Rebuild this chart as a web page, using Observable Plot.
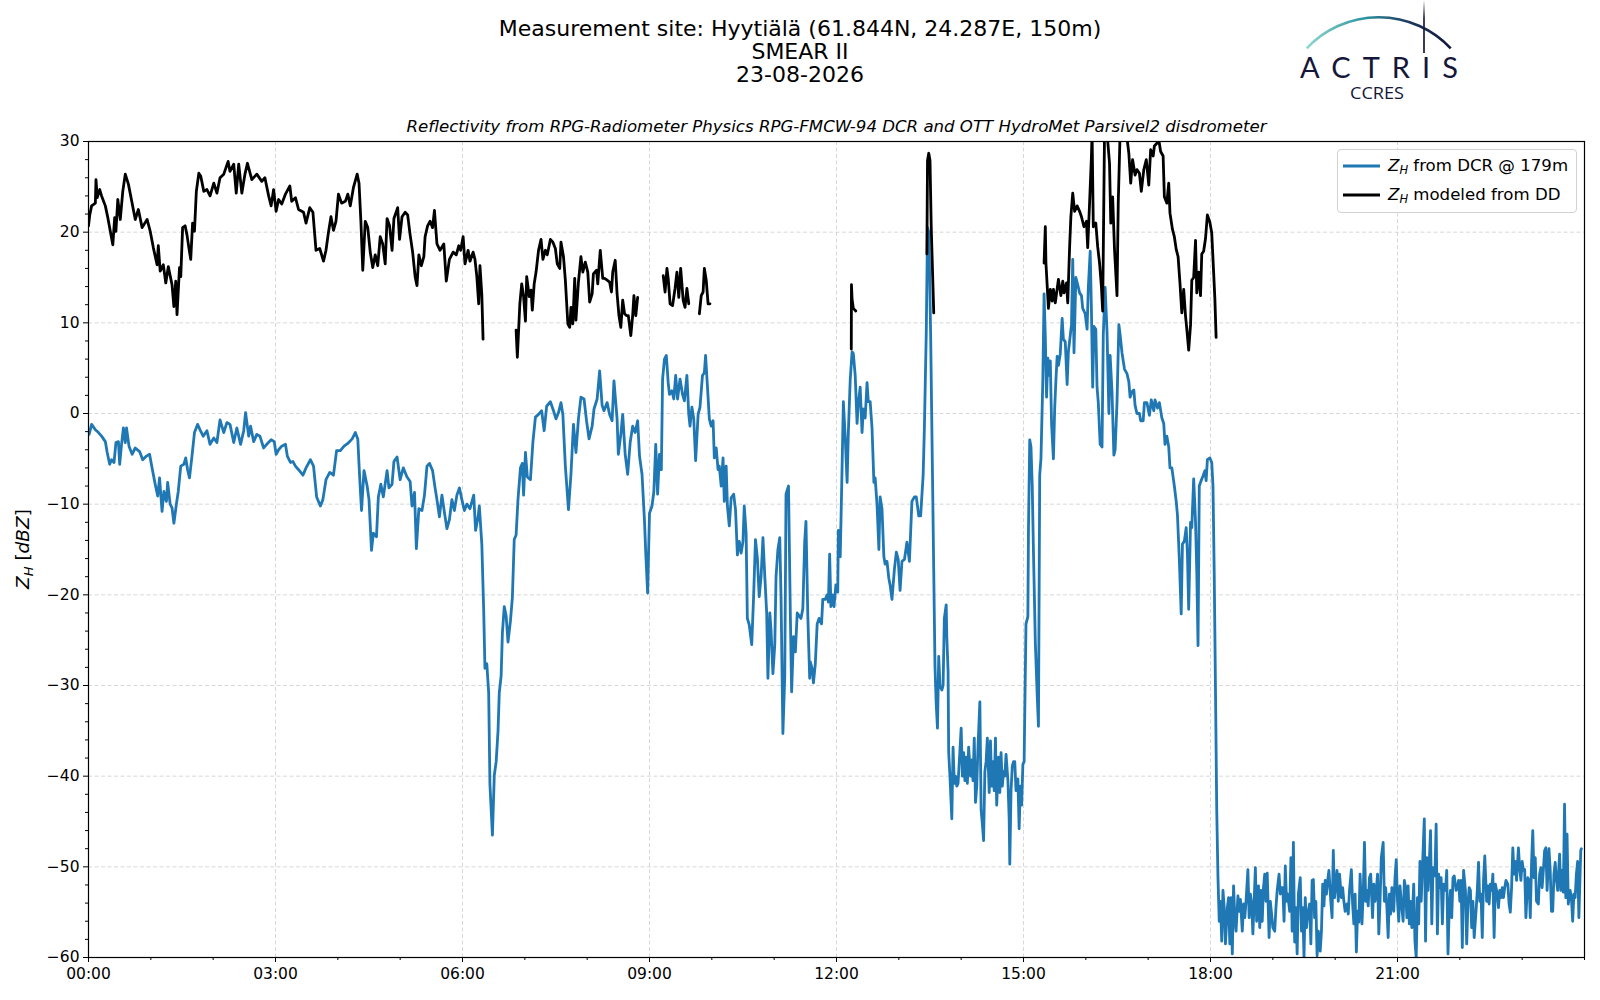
<!DOCTYPE html>
<html>
<head>
<meta charset="utf-8">
<script src="https://cdn.jsdelivr.net/npm/d3@7"></script>
<script src="https://cdn.jsdelivr.net/npm/@observablehq/plot@0.6"></script>
<style>
  body { margin: 0; background: #fff; }
  #wrap { position: relative; width: 1600px; height: 1000px; font-family: "DejaVu Sans", sans-serif; color: #000; overflow: hidden; }
  .title { position: absolute; left: 0; top: 17px; width: 1600px; text-align: center; font-size: 22px; line-height: 23px; }
  #chart { position: absolute; left: 0; top: 110px; }
  #logo { position: absolute; left: 1280px; top: 0; }
  #legend { position: absolute; left: 1337px; top: 149px; width: 238px; height: 62px; border: 1px solid #d2d2d2; border-radius: 4px; background: rgba(255,255,255,0.85); font-size: 16.6px; }
  .entry { position: absolute; left: 5px; height: 20px; display: flex; align-items: center; white-space: nowrap; }
  .entry svg { margin-right: 8px; }
  i { font-style: italic; }
  sub { font-size: 11.5px; vertical-align: -3px; font-style: italic; }
</style>
</head>
<body>
<div id="wrap">
  <div class="title">Measurement site: Hyytiälä (61.844N, 24.287E, 150m)<br>SMEAR II<br>23-08-2026</div>
  <svg id="logo" width="200" height="105" viewBox="0 0 200 105">
    <defs>
      <linearGradient id="arcg" x1="0" x2="1" y1="0" y2="0">
        <stop offset="0" stop-color="#8fd6cf"/>
        <stop offset="0.4" stop-color="#2f95a0"/>
        <stop offset="0.7" stop-color="#1c3b60"/>
        <stop offset="1" stop-color="#111538"/>
      </linearGradient>
      <linearGradient id="vg" gradientUnits="userSpaceOnUse" x1="0" x2="0" y1="0" y2="53">
        <stop offset="0" stop-color="#ffffff"/>
        <stop offset="0.35" stop-color="#1a1d44"/>
        <stop offset="1" stop-color="#111538"/>
      </linearGradient>
    </defs>
    <path d="M26.7,48.3 A99,99 0 0 1 170.7,48.3" fill="none" stroke="url(#arcg)" stroke-width="2.6"/>
    <line x1="144" y1="1" x2="144" y2="53" stroke="url(#vg)" stroke-width="1.7"/>
    <text x="20" y="78" font-family="Lato, 'Open Sans', sans-serif" font-size="29" fill="#14173a" textLength="158" lengthAdjust="spacing">ACTRIS</text>
    <text x="70" y="99" font-family="'Open Sans', sans-serif" font-size="17" fill="#14173a" textLength="54" lengthAdjust="spacingAndGlyphs">CCRES</text>
  </svg>
  <div id="chart"></div>
  <div id="legend">
    <div class="entry" style="top:6px"><svg width="37" height="4"><line x1="0" y1="2" x2="37" y2="2" stroke="#1f77b4" stroke-width="2.8"/></svg><span><i>Z</i><sub>H</sub> from DCR @ 179m</span></div>
    <div class="entry" style="top:35px"><svg width="37" height="4"><line x1="0" y1="2" x2="37" y2="2" stroke="#000" stroke-width="2.8"/></svg><span><i>Z</i><sub>H</sub> modeled from DD</span></div>
  </div>
</div>
<script>
// ---- Data: time (hours since 00:00 UTC) and reflectivity (dBZ) ----
const subtitle = "Reflectivity from RPG-Radiometer Physics RPG-FMCW-94 DCR and OTT HydroMet Parsivel2 disdrometer";
const xMajorTicks = [0, 3, 6, 9, 12, 15, 18, 21];
const xMinorTicks = [0,1,2,3,4,5,6,7,8,9,10,11,12,13,14,15,16,17,18,19,20,21,22,23,24];
const yMajorTicks = [-60, -50, -40, -30, -20, -10, 0, 10, 20, 30];
const yMinorTicks = [-58,-56,-54,-52,-48,-46,-44,-42,-38,-36,-34,-32,-28,-26,-24,-22,-18,-16,-14,-12,-8,-6,-4,-2,2,4,6,8,12,14,16,18,22,24,26,28];

// Z_H from DCR @ 179m (blue)
const dcrNight = [[0.01,-2.3],[0.05,-1.2],[0.11,-1.8],[0.16,-2.1],[0.21,-2.5],[0.27,-3.1],[0.30,-4.3],[0.34,-5.6],[0.37,-5.1],[0.41,-5.4],[0.44,-3.2],[0.48,-3.1],[0.50,-5.6],[0.53,-3.4],[0.56,-1.6],[0.59,-3.2],[0.61,-1.6],[0.65,-3.6],[0.70,-4.5],[0.75,-3.8],[0.82,-4.2],[0.87,-5.1],[0.93,-4.7],[0.98,-4.5],[1.02,-6.0],[1.07,-7.8],[1.11,-9.1],[1.14,-7.1],[1.18,-10.8],[1.21,-8.6],[1.25,-9.7],[1.27,-7.6],[1.31,-10.0],[1.34,-10.4],[1.37,-12.1],[1.41,-10.0],[1.44,-8.6],[1.48,-5.8],[1.53,-5.6],[1.56,-4.9],[1.59,-6.2],[1.62,-7.1],[1.66,-4.7],[1.70,-2.1],[1.75,-1.2],[1.79,-1.8],[1.84,-2.5],[1.90,-1.9],[1.95,-3.4],[2.01,-2.7],[2.06,-3.2],[2.11,-0.7],[2.17,-2.1],[2.22,-1.0],[2.27,-1.2],[2.33,-3.2],[2.38,-1.6],[2.44,-3.4],[2.49,-1.9],[2.52,0.1],[2.57,-2.5],[2.60,-1.4],[2.65,-3.1],[2.70,-2.3],[2.75,-2.5],[2.81,-3.8],[2.86,-3.4],[2.93,-2.9],[2.98,-3.1],[3.01,-4.5],[3.05,-4.0],[3.10,-3.6],[3.16,-3.4],[3.19,-4.7],[3.24,-5.4],[3.28,-5.3],[3.32,-5.8],[3.37,-6.2]];
const dcrMorning = [[3.44,-6.8],[3.49,-6.0],[3.56,-5.1],[3.61,-5.8],[3.66,-9.2],[3.72,-10.2],[3.76,-9.5],[3.81,-7.3],[3.87,-6.5],[3.93,-6.8],[3.98,-4.1],[4.04,-4.1],[4.10,-3.6],[4.16,-3.3],[4.23,-2.8],[4.28,-2.1],[4.32,-2.8],[4.35,-7.0],[4.38,-10.7],[4.42,-6.3],[4.47,-8.0],[4.50,-9.5],[4.54,-15.1],[4.57,-13.2],[4.62,-13.6],[4.65,-9.2],[4.69,-7.8],[4.73,-9.2],[4.79,-6.3],[4.82,-8.2],[4.87,-7.8],[4.90,-5.3],[4.95,-4.8],[5.00,-7.3],[5.05,-6.0],[5.11,-7.0],[5.16,-7.5],[5.19,-10.2],[5.23,-8.7],[5.26,-14.9],[5.30,-10.5],[5.35,-10.7],[5.39,-9.0],[5.43,-5.8],[5.47,-5.5],[5.52,-6.3],[5.56,-8.2],[5.59,-9.5],[5.63,-11.4],[5.67,-9.0],[5.71,-10.9],[5.75,-12.7],[5.79,-11.7],[5.83,-9.5],[5.87,-10.7],[5.91,-9.0],[5.95,-8.2],[5.99,-9.5],[6.03,-10.7],[6.07,-10.0],[6.12,-10.5],[6.18,-9.0],[6.21,-12.9],[6.25,-11.4],[6.27,-10.2],[6.31,-14.4],[6.34,-21.7],[6.36,-28.1],[6.39,-27.6],[6.42,-30.8],[6.44,-40.9],[6.48,-46.5],[6.51,-39.9],[6.54,-38.4],[6.57,-35.0],[6.59,-30.8],[6.62,-28.9],[6.64,-24.2],[6.67,-21.3],[6.70,-22.3],[6.73,-25.2],[6.77,-22.8],[6.80,-20.3],[6.83,-13.9],[6.86,-13.4],[6.89,-9.5],[6.93,-6.0],[6.96,-5.5],[6.98,-9.0],[7.01,-4.3],[7.04,-7.0],[7.09,-7.3],[7.13,-3.1],[7.17,-0.4],[7.22,-0.1],[7.27,0.3],[7.31,-1.9],[7.35,0.8],[7.41,1.3]];
const dcrMidday = [[7.46,0.3],[7.50,-0.6],[7.54,0.1],[7.58,1.2],[7.61,-0.1],[7.65,-5.8],[7.70,-10.6],[7.74,-6.7],[7.78,-1.2],[7.82,-4.3],[7.86,-0.6],[7.90,1.8],[7.95,1.6],[7.99,-0.8],[8.03,-2.8],[8.08,-1.4],[8.11,0.5],[8.16,1.6],[8.20,4.7],[8.24,0.9],[8.27,0.3],[8.32,1.2],[8.36,-0.1],[8.40,-0.8],[8.43,3.6],[8.48,-0.6],[8.50,-4.5],[8.54,-2.3],[8.57,-0.1],[8.61,-4.5],[8.65,-6.7],[8.69,-3.2],[8.73,-1.4],[8.77,-2.1],[8.81,-0.8],[8.84,-4.7],[8.88,-6.7],[8.92,-11.9],[8.94,-15.4],[8.97,-19.8],[9.00,-11.0],[9.04,-10.2],[9.07,-8.6],[9.10,-3.4],[9.13,-8.9],[9.16,-4.5],[9.19,-6.2],[9.21,3.8],[9.24,6.0],[9.27,6.4],[9.30,3.4],[9.32,2.1],[9.36,2.5],[9.39,1.6],[9.42,4.2],[9.45,1.6],[9.49,3.8],[9.53,2.1],[9.56,1.4],[9.60,4.2],[9.63,-0.1],[9.65,-1.4],[9.68,0.7],[9.71,-0.6],[9.74,-5.2],[9.78,-0.1],[9.81,0.7],[9.85,4.2],[9.88,4.5],[9.90,6.4],[9.93,2.9],[9.96,-0.6],[9.99,-1.4],[10.02,-0.8],[10.04,-4.9],[10.07,-3.8],[10.10,-6.2],[10.12,-5.8],[10.15,-8.0],[10.18,-4.9],[10.20,-9.7],[10.23,-5.8],[10.25,-10.2],[10.28,-12.4],[10.31,-9.3],[10.35,-8.9],[10.38,-10.6],[10.41,-15.6],[10.44,-14.1],[10.47,-15.4],[10.50,-14.1],[10.52,-10.2],[10.55,-13.2],[10.57,-22.6],[10.60,-23.3],[10.64,-25.5],[10.67,-20.2],[10.70,-13.9],[10.73,-15.9],[10.76,-20.2],[10.79,-18.0],[10.82,-13.7],[10.85,-18.0],[10.88,-22.0],[10.90,-29.2],[10.93,-22.0],[10.95,-23.9],[10.98,-28.7],[11.01,-25.5],[11.03,-18.0],[11.06,-15.0],[11.09,-13.7],[11.11,-20.2],[11.14,-35.3],[11.17,-29.0],[11.19,-8.9],[11.23,-8.0],[11.26,-22.4],[11.28,-30.7],[11.31,-24.6],[11.34,-26.3],[11.37,-22.0],[11.41,-22.4],[11.43,-22.6],[11.46,-21.5],[11.49,-14.1],[11.51,-11.9],[11.54,-22.4],[11.57,-29.2]];
const dcrAfternoon = [[11.58,-27.4],[11.61,-28.2],[11.63,-29.7],[11.66,-27.6],[11.69,-23.2],[11.72,-22.6],[11.76,-23.2],[11.78,-20.5],[11.82,-20.5],[11.85,-20.0],[11.87,-20.8],[11.89,-15.5],[11.91,-21.3],[11.94,-20.0],[11.96,-21.3],[11.99,-18.9],[12.02,-19.7],[12.03,-12.9],[12.06,-15.8],[12.09,-5.8],[12.11,1.3],[12.14,-2.6],[12.17,-7.6],[12.19,-2.1],[12.22,3.7],[12.25,6.8],[12.27,6.6],[12.30,4.2],[12.33,-1.1],[12.35,1.1],[12.38,2.9],[12.41,-2.1],[12.43,0.5],[12.46,-0.5],[12.49,3.4],[12.51,1.3],[12.54,1.3],[12.57,-1.6],[12.60,-7.6],[12.62,-7.1],[12.65,-10.0],[12.68,-15.0],[12.70,-9.2],[12.73,-10.5],[12.76,-15.8],[12.78,-16.6],[12.81,-16.3],[12.84,-18.2],[12.86,-18.9],[12.89,-20.5],[12.93,-17.1],[12.96,-15.3],[12.99,-16.1],[13.02,-19.5],[13.05,-16.3],[13.09,-16.1],[13.13,-14.2],[13.17,-16.3],[13.21,-9.7],[13.25,-9.2],[13.28,-9.2],[13.32,-11.3],[13.35,-11.3],[13.39,-6.8],[13.41,-1.6],[13.44,8.9],[13.46,20.5],[13.48,20.0],[13.49,16.8],[13.51,8.9],[13.54,-6.8],[13.56,-17.4],[13.58,-27.9],[13.60,-32.1],[13.62,-34.7],[13.64,-26.8],[13.66,-30.0],[13.69,-30.5],[13.71,-30.0],[13.73,-22.6],[13.76,-21.1],[13.77,-24.7],[13.79,-28.4],[13.80,-37.4],[13.82,-40.0],[13.85,-44.7],[13.87,-36.8],[13.89,-40.8],[13.91,-40.0],[13.93,-41.1],[13.95,-40.8],[13.97,-38.4],[14.00,-34.7],[14.02,-40.0],[14.04,-37.4],[14.06,-40.5],[14.08,-37.9],[14.10,-40.8],[14.12,-36.8],[14.15,-40.0],[14.17,-38.2],[14.19,-40.5],[14.21,-35.8],[14.23,-42.9],[14.25,-41.1],[14.27,-36.8],[14.30,-31.8],[14.32,-43.7],[14.34,-45.3],[14.36,-47.1],[14.38,-39.5],[14.40,-38.4],[14.42,-35.8],[14.45,-41.8],[14.47,-36.1],[14.49,-41.1],[14.51,-38.4],[14.53,-41.6],[14.55,-35.8],[14.57,-43.2],[14.60,-37.9],[14.62,-41.8],[14.64,-37.4],[14.66,-41.1],[14.68,-39.5],[14.70,-40.0],[14.72,-37.6],[14.75,-40.5],[14.77,-44.7],[14.78,-49.7],[14.80,-41.6],[14.82,-38.9],[14.84,-38.4],[14.86,-38.4],[14.88,-41.6],[14.91,-40.3],[14.93,-45.8],[14.95,-41.1],[14.97,-43.2],[14.99,-38.7],[15.01,-38.4],[15.02,-33.2],[15.04,-23.2],[15.07,-22.4],[15.08,-12.6],[15.10,-2.9],[15.12,-3.7],[15.14,-7.9],[15.16,-15.3],[15.19,-25.3],[15.22,-31.1],[15.24,-34.5],[15.26,-6.8],[15.28,-5.0],[15.31,3.7],[15.33,13.2],[15.35,8.4],[15.37,1.8],[15.39,6.1],[15.41,4.2],[15.43,5.8],[15.45,-1.1],[15.48,-5.0],[15.50,0.5],[15.52,3.7],[15.54,6.3],[15.56,5.3],[15.59,6.6],[15.62,10.5],[15.64,8.2],[15.67,7.9],[15.70,3.2],[15.72,6.8]];
const dcrEvening = [[15.77,9.8],[15.79,17.0],[15.81,6.7],[15.84,15.0],[15.87,14.2],[15.90,13.3],[15.93,13.0],[15.95,11.6],[15.99,11.0],[16.02,9.3],[16.04,13.9],[16.07,17.9],[16.09,11.3],[16.11,2.9],[16.13,9.6],[16.16,9.3],[16.18,2.9],[16.20,1.2],[16.23,-3.4],[16.26,-3.7],[16.28,8.7],[16.31,13.9],[16.34,9.0],[16.37,0.0],[16.39,6.4],[16.42,2.4],[16.45,-4.6],[16.47,-4.0],[16.50,1.2],[16.53,9.8],[16.55,8.7],[16.58,6.7],[16.62,4.9],[16.66,4.4],[16.69,3.5],[16.71,1.8],[16.74,2.4],[16.77,2.6],[16.79,0.9],[16.82,0.0],[16.86,0.0],[16.88,-0.8],[16.92,-0.8],[16.94,1.2],[16.98,1.2],[17.02,-0.2],[17.05,1.5],[17.09,0.3],[17.11,1.5],[17.15,0.6],[17.18,1.2],[17.22,-0.5],[17.25,-1.1],[17.27,-3.4],[17.30,-2.5],[17.33,-3.7],[17.35,-6.0],[17.38,-6.0],[17.42,-8.0],[17.45,-9.7],[17.47,-11.2],[17.50,-16.1],[17.53,-22.1],[17.55,-14.4],[17.58,-14.1],[17.61,-12.6],[17.63,-15.5],[17.65,-21.6],[17.68,-12.0],[17.70,-12.6],[17.73,-7.2],[17.76,-12.0],[17.78,-17.5],[17.80,-25.6],[17.82,-8.0],[17.85,-7.4],[17.88,-6.9],[17.91,-6.3],[17.93,-7.4],[17.95,-5.1],[17.99,-4.9],[18.02,-5.4],[18.04,-8.0],[18.06,-17.8],[18.08,-30.5],[18.10,-43.7],[18.12,-51.2]];
const dcrLate = [[18.14,-56.0],[18.16,-53.8],[18.18,-58.2],[18.20,-52.6],[18.22,-54.5],[18.24,-58.5],[18.27,-54.5],[18.29,-53.4],[18.31,-58.5],[18.33,-53.4],[18.35,-59.6],[18.37,-52.1],[18.39,-55.6],[18.41,-57.1],[18.44,-53.2],[18.46,-54.9],[18.48,-53.6],[18.51,-57.1],[18.53,-54.1],[18.55,-55.6],[18.57,-53.8],[18.60,-50.3],[18.62,-55.6],[18.64,-53.0],[18.66,-54.1],[18.68,-57.4],[18.70,-53.8],[18.72,-50.1],[18.74,-56.0],[18.77,-52.1],[18.79,-56.7],[18.81,-52.6],[18.83,-56.0],[18.85,-52.3],[18.87,-50.8],[18.89,-53.8],[18.91,-50.7],[18.94,-57.8],[18.96,-53.8],[18.98,-55.2],[19.00,-56.7],[19.03,-57.1],[19.05,-54.5],[19.07,-52.6],[19.10,-50.8],[19.12,-53.0],[19.14,-52.3],[19.16,-52.3],[19.18,-56.0],[19.20,-49.9],[19.22,-53.8],[19.24,-53.0],[19.27,-54.9],[19.29,-49.0],[19.31,-57.1],[19.33,-47.3],[19.35,-58.3],[19.37,-54.5],[19.39,-59.6],[19.41,-53.0],[19.44,-51.2],[19.46,-57.1],[19.48,-54.5],[19.50,-60.0],[19.52,-53.4],[19.54,-56.7],[19.56,-55.2],[19.59,-54.1],[19.61,-58.5],[19.63,-51.5],[19.65,-51.4],[19.67,-55.6],[19.69,-53.8],[19.71,-59.8],[19.73,-57.1],[19.76,-59.3],[19.78,-57.1],[19.80,-51.9],[19.82,-54.3],[19.84,-51.5],[19.86,-53.0],[19.88,-51.5],[19.90,-50.4],[19.93,-53.8],[19.95,-55.6],[19.97,-48.2],[19.99,-53.4],[20.01,-51.9],[20.03,-50.4],[20.05,-53.8],[20.07,-50.8],[20.10,-53.4],[20.12,-52.3],[20.14,-53.8],[20.16,-54.9],[20.19,-54.1],[20.21,-55.2],[20.23,-52.6],[20.26,-50.3],[20.28,-54.1],[20.30,-56.3],[20.32,-53.0],[20.34,-59.4],[20.36,-54.9],[20.38,-56.1],[20.40,-50.8],[20.43,-56.3],[20.45,-53.0],[20.47,-47.3],[20.49,-53.8],[20.51,-52.6],[20.53,-54.3],[20.55,-51.2],[20.57,-50.8],[20.60,-55.6],[20.62,-51.9],[20.64,-53.8],[20.66,-52.6],[20.68,-50.8],[20.70,-57.4],[20.72,-53.8],[20.74,-49.0],[20.77,-47.3],[20.79,-53.8],[20.81,-52.3],[20.83,-54.5],[20.85,-57.8],[20.87,-53.0],[20.89,-55.2],[20.91,-52.3],[20.94,-54.9],[20.96,-51.2],[20.98,-49.2],[21.00,-53.8],[21.02,-56.0],[21.04,-52.1],[21.06,-53.8],[21.09,-56.0],[21.11,-51.5],[21.13,-52.3],[21.15,-55.6],[21.17,-52.1],[21.19,-56.3],[21.21,-53.8],[21.23,-56.7],[21.26,-51.9],[21.28,-58.2],[21.30,-60.0],[21.32,-53.4],[21.34,-56.3],[21.36,-49.4],[21.38,-53.8],[21.40,-50.1],[21.43,-44.7],[21.45,-58.2],[21.47,-49.0],[21.49,-52.6],[21.51,-49.5],[21.53,-46.0],[21.55,-56.3],[21.57,-50.1],[21.60,-51.0],[21.62,-45.3],[21.64,-57.4],[21.66,-50.8],[21.68,-52.3],[21.70,-51.2],[21.72,-56.3],[21.74,-51.9],[21.77,-52.6],[21.79,-50.4],[21.81,-59.6],[21.83,-54.5],[21.85,-52.6],[21.87,-55.6],[21.89,-51.2],[21.91,-51.0],[21.94,-52.6],[21.96,-52.3],[21.98,-51.5],[22.00,-53.8],[22.02,-51.5],[22.04,-58.9],[22.06,-50.4],[22.09,-52.6],[22.11,-58.5],[22.13,-54.1],[22.15,-52.3],[22.17,-52.6],[22.19,-56.7],[22.21,-53.8],[22.23,-57.8],[22.26,-54.9],[22.28,-52.6],[22.30,-49.5],[22.32,-53.8],[22.34,-53.0],[22.36,-57.8],[22.38,-51.5],[22.40,-48.8],[22.43,-53.8],[22.45,-52.1],[22.47,-54.1],[22.49,-51.9],[22.51,-52.6],[22.53,-50.8],[22.55,-57.8],[22.57,-51.9],[22.60,-53.0],[22.62,-54.5],[22.64,-52.6],[22.66,-53.4],[22.68,-52.3],[22.70,-53.4],[22.72,-52.3],[22.74,-51.5],[22.77,-51.9],[22.79,-54.1],[22.81,-55.0],[22.83,-52.3],[22.85,-47.9],[22.87,-50.8],[22.89,-49.4],[22.91,-51.5],[22.94,-47.9],[22.96,-50.1],[22.98,-51.5],[23.00,-49.4],[23.02,-50.4],[23.04,-50.3],[23.06,-55.6],[23.09,-51.2],[23.11,-51.5],[23.13,-55.6],[23.15,-49.7],[23.17,-46.0],[23.19,-51.2],[23.21,-49.0],[23.23,-53.8],[23.26,-54.1],[23.28,-50.8],[23.30,-50.1],[23.32,-52.3],[23.34,-50.4],[23.36,-48.2],[23.38,-47.9],[23.40,-52.6],[23.43,-48.0],[23.45,-50.4],[23.47,-54.9],[23.49,-54.9],[23.51,-50.8],[23.53,-49.5],[23.55,-51.5],[23.57,-52.6],[23.60,-48.6],[23.62,-52.6],[23.64,-50.4],[23.66,-52.8],[23.68,-43.1],[23.70,-53.4],[23.72,-46.4],[23.74,-54.1],[23.77,-52.6],[23.79,-53.4],[23.81,-56.0],[23.83,-53.0],[23.85,-53.4],[23.87,-50.8],[23.89,-49.4],[23.91,-55.6],[23.94,-48.2],[23.95,-48.0]];

// Z_H modeled from disdrometer DSD (black), one array per continuous segment
const ddSeg1 = [[0.00,20.7],[0.02,21.9],[0.05,22.9],[0.11,23.2],[0.12,25.8],[0.14,23.8],[0.18,24.7],[0.21,24.0],[0.27,22.9],[0.31,21.6],[0.35,20.1],[0.39,18.6],[0.42,21.6],[0.44,20.1],[0.47,23.6],[0.51,21.4],[0.55,24.5],[0.59,26.4],[0.64,25.3],[0.70,23.2],[0.75,21.4],[0.80,22.5],[0.86,20.5],[0.94,21.4],[0.99,20.1],[1.04,18.3],[1.10,16.4],[1.12,18.5],[1.15,15.7],[1.20,16.4],[1.24,14.4],[1.28,16.2],[1.34,14.2],[1.37,11.8],[1.40,14.6],[1.42,10.9],[1.46,16.1],[1.48,15.1],[1.51,20.5],[1.55,20.7],[1.58,19.7],[1.61,18.3],[1.64,17.0],[1.67,21.0],[1.70,20.1],[1.73,24.5],[1.77,26.5],[1.80,26.2],[1.85,24.5],[1.90,24.7],[1.95,24.0],[2.01,25.4],[2.06,24.3],[2.11,26.0],[2.17,26.4],[2.24,27.8],[2.27,26.7],[2.33,27.5],[2.37,24.3],[2.41,27.5],[2.46,24.3],[2.51,26.4],[2.55,27.6],[2.62,25.8],[2.70,26.4],[2.78,25.6],[2.83,26.0],[2.89,24.0],[2.93,22.9],[2.97,24.7],[3.01,22.3],[3.05,23.6],[3.10,23.1],[3.16,24.2],[3.23,25.1],[3.26,23.4],[3.32,23.8],[3.37,22.5],[3.45,22.2],[3.49,21.0],[3.55,22.7],[3.60,22.2],[3.65,18.0],[3.71,18.2],[3.77,16.8],[3.81,18.0],[3.85,20.0],[3.89,21.7],[3.93,20.2],[3.97,21.2],[4.01,24.2],[4.06,23.2],[4.12,23.4],[4.16,24.2],[4.20,22.9],[4.25,24.9],[4.31,26.4],[4.34,25.4],[4.37,21.2],[4.40,15.8],[4.44,21.2],[4.48,20.5],[4.52,17.8],[4.56,16.1],[4.60,17.5],[4.64,16.3],[4.68,19.5],[4.72,18.7],[4.76,16.5],[4.79,21.5],[4.83,20.7],[4.87,18.0],[4.90,21.5],[4.96,22.7],[4.99,19.2],[5.03,21.7],[5.08,22.2],[5.12,21.9],[5.16,19.7],[5.20,17.8],[5.24,15.1],[5.27,14.1],[5.30,17.5],[5.34,16.3],[5.38,17.3],[5.40,19.5],[5.44,20.7],[5.48,21.2],[5.52,20.5],[5.55,22.4],[5.59,18.7],[5.64,18.0],[5.70,18.7],[5.74,14.6],[5.79,17.0],[5.85,17.8],[5.90,17.5],[5.94,18.5],[5.97,18.0],[6.01,19.5],[6.04,16.5],[6.09,18.0],[6.12,16.8],[6.17,17.8],[6.20,17.0],[6.23,15.1],[6.26,12.1],[6.28,16.3],[6.31,13.1],[6.33,8.2]];
const ddSeg2 = [[6.86,9.2],[6.88,6.2],[6.92,12.1],[6.95,14.3],[6.98,12.9],[7.01,10.2],[7.03,15.1],[7.07,12.9],[7.10,13.6],[7.12,11.4],[7.15,14.3],[7.18,15.6],[7.22,18.0],[7.26,19.2],[7.29,17.0],[7.33,18.0],[7.36,17.5],[7.41,19.2],[7.45,18.9],[7.49,18.2],[7.52,16.5],[7.56,16.0],[7.58,18.9],[7.62,17.3],[7.65,14.7],[7.69,9.9],[7.72,9.5],[7.74,11.7],[7.77,9.9],[7.80,14.9],[7.82,10.3],[7.86,14.5],[7.90,17.3],[7.93,15.6],[7.97,16.7],[8.01,15.6],[8.04,12.3],[8.08,13.2],[8.10,15.4],[8.15,15.8],[8.17,14.3],[8.21,18.0],[8.25,14.9],[8.28,14.9],[8.32,14.7],[8.36,14.5],[8.39,13.4],[8.41,15.6],[8.45,16.9],[8.48,13.2],[8.51,10.8],[8.54,9.5],[8.57,12.5],[8.60,11.0],[8.63,10.8],[8.66,10.8],[8.70,8.6],[8.73,10.8],[8.75,13.0],[8.78,10.8],[8.81,12.8]];
const ddSeg3 = [[9.22,15.2],[9.25,13.4],[9.28,16.0],[9.30,14.9],[9.33,12.1],[9.37,11.9],[9.41,13.8],[9.44,15.6],[9.47,12.8],[9.50,16.0],[9.54,12.5],[9.57,11.7],[9.60,13.8],[9.63,12.1]];
const ddSeg4 = [[9.80,11.0],[9.83,13.0],[9.86,13.4],[9.88,16.0],[9.91,14.7],[9.94,12.1],[9.97,12.1]];
const ddSeg5 = [[12.237,7.1],[12.24,14.2],[12.25,12.6],[12.27,11.6],[12.31,11.3]];
const ddSeg6 = [[13.45,17.6],[13.46,27.9],[13.48,28.7],[13.50,27.9],[13.52,20.5],[13.56,11.1]];
const ddSeg7 = [[15.33,16.6],[15.35,20.6],[15.36,16.6],[15.40,11.6],[15.43,13.7],[15.46,12.4],[15.48,13.7],[15.51,12.2],[15.56,14.8],[15.60,13.0],[15.63,14.6],[15.65,13.3],[15.69,14.4],[15.71,12.2],[15.74,18.4],[15.76,21.7],[15.79,24.3],[15.82,22.3],[15.86,22.9],[15.90,22.3],[15.93,21.7],[15.97,20.6],[16.01,21.2],[16.03,18.3],[16.06,23.2],[16.09,28.4],[16.10,31],[16.12,20.6],[16.16,21.0],[16.19,18.4],[16.22,16.6],[16.25,14.0],[16.27,11.3],[16.30,31],[16.34,31],[16.38,27.6],[16.40,21.0],[16.43,23.9],[16.46,18.1],[16.50,13.0],[16.52,23.2],[16.55,31],[16.65,31],[16.69,28.7],[16.72,25.4],[16.75,28.0],[16.79,26.3],[16.82,26.9],[16.86,26.5],[16.89,24.5],[16.93,26.9],[16.97,28.0],[17.01,25.2],[17.04,29.1],[17.08,28.4],[17.10,29.5],[17.14,29.8],[17.17,30.2],[17.20,28.9],[17.24,28.4],[17.26,23.9],[17.30,23.2],[17.33,25.4],[17.35,22.1],[17.39,20.3],[17.42,19.5],[17.45,18.1],[17.48,17.3],[17.51,14.4],[17.54,11.1],[17.57,13.7],[17.60,10.7],[17.62,9.3],[17.65,7.0],[17.68,9.8],[17.70,14.7],[17.73,15.0],[17.76,19.1],[17.78,13.3],[17.81,15.6],[17.84,13.0],[17.86,17.6],[17.89,17.9],[17.92,19.3],[17.95,21.9],[17.99,21.1],[18.02,19.9],[18.05,15.6],[18.07,12.7],[18.09,8.4]];

// ---- Build tables ----
const dcrRows = [dcrNight, dcrMorning, dcrMidday, dcrAfternoon, dcrEvening, dcrLate]
  .flat().map(([t, v]) => ({t, dbz: v}));
const ddRows = [ddSeg1, ddSeg2, ddSeg3, ddSeg4, ddSeg5, ddSeg6, ddSeg7]
  .flatMap((seg, i) => seg.map(([t, v]) => ({t, dbz: v, seg: i})));

const fmtHour = h => String(h).padStart(2, "0") + ":00";
const gridStyle = {stroke: "#b0b0b0", strokeOpacity: 0.55, strokeWidth: 0.9, strokeDasharray: "4,2.5"};

const chart = Plot.plot({
  width: 1600,
  height: 890,
  marginLeft: 88,
  marginRight: 16,
  marginTop: 31,
  marginBottom: 43,
  style: {fontFamily: "'DejaVu Sans', sans-serif", fontSize: "15.5px", background: "white", color: "black", overflow: "visible"},
  x: {domain: [0, 24]},
  y: {domain: [-60, 30]},
  marks: [
    Plot.gridX(xMajorTicks, gridStyle),
    Plot.gridY(yMajorTicks, gridStyle),
    Plot.line(dcrRows, {x: "t", y: "dbz", stroke: "#1f77b4", strokeWidth: 2.8, clip: true}),
    Plot.line(ddRows, {x: "t", y: "dbz", z: "seg", stroke: "#000000", strokeWidth: 2.8, clip: true}),
    Plot.frame({stroke: "#000", strokeWidth: 1.2}),
    Plot.axisX(xMajorTicks, {tickSize: 5, tickPadding: 5, tickFormat: fmtHour, label: null, fontSize: 15.5}),
    Plot.axisX(xMinorTicks, {tickSize: 3, tickFormat: () => "", label: null}),
    Plot.axisY(yMajorTicks, {tickSize: 5, tickPadding: 4, label: null, fontSize: 15.5}),
    Plot.axisY(yMinorTicks, {tickSize: 3, tickFormat: () => "", label: null}),
    Plot.text([subtitle], {frameAnchor: "top", dy: -21, text: d => d, fontStyle: "italic", fontSize: 16.6, fill: "#000"})
  ]
});
document.getElementById("chart").appendChild(chart);

// y-axis label with subscript
const svg = d3.select(chart);
const lab = svg.append("text")
  .attr("transform", `translate(23, ${(31 + 847) / 2}) rotate(-90)`)
  .attr("text-anchor", "middle")
  .attr("dy", "0.35em")
  .attr("font-family", "'DejaVu Sans', sans-serif")
  .attr("font-size", 18.5)
  .attr("fill", "#000");
lab.append("tspan").attr("font-style", "italic").text("Z");
lab.append("tspan").attr("font-style", "italic").attr("font-size", 13).attr("dy", "0.3em").text("H");
lab.append("tspan").attr("dy", "-0.22em").text(" [");
lab.append("tspan").attr("font-style", "italic").text("dBZ");
lab.append("tspan").text("]");
</script>
</body>
</html>
